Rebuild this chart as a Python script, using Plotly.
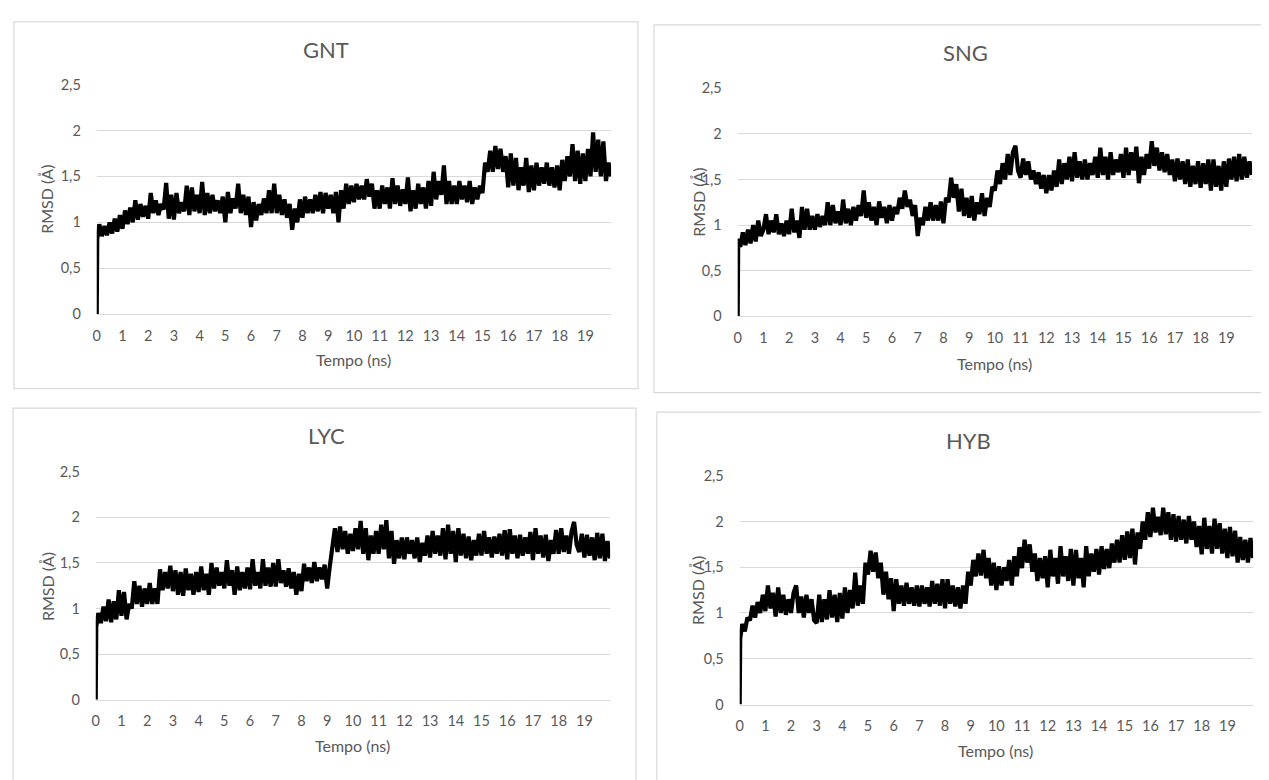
import plotly.graph_objects as go

# ---------------- data (RMSD in Å) ----------------
panel_titles = ["GNT", "SNG", "LYC", "HYB"]
x_tick_vals = list(range(0, 20))
x_tick_text = [str(v) for v in x_tick_vals]
y_tick_vals = [0, 0.5, 1, 1.5, 2, 2.5]
y_tick_text = ["0", "0,5", "1", "1,5", "2", "2,5"]
x_title = "Tempo (ns)"
y_title = "RMSD (Å)"

# samples: t = 0, 0.02, then every 0.1 ns up to 20 ns
gnt = [
    0.0, 0.82, 0.98, 0.85, 0.96, 0.86, 1.0, 0.88, 1.04, 0.9, 1.08,
    0.93, 1.13, 0.98, 1.16, 1.0, 1.24, 1.03, 1.2, 1.06, 1.18,
    1.04, 1.32, 1.1, 1.24, 1.08, 1.2, 1.14, 1.43, 1.04, 1.3,
    1.03, 1.32, 1.1, 1.22, 1.12, 1.4, 1.08, 1.38, 1.12, 1.3,
    1.1, 1.44, 1.08, 1.32, 1.1, 1.3, 1.12, 1.24, 1.1, 1.28,
    1.0, 1.33, 1.1, 1.26, 1.15, 1.42, 1.1, 1.3, 1.08, 1.28,
    0.95, 1.22, 1.02, 1.2, 1.08, 1.26, 1.1, 1.35, 1.1, 1.42,
    1.1, 1.3, 1.08, 1.25, 1.05, 1.2, 0.92, 1.15, 1.0, 1.25,
    1.05, 1.28, 1.1, 1.25, 1.1, 1.3, 1.12, 1.33, 1.1, 1.32,
    1.15, 1.3, 1.1, 1.33, 1.0, 1.35, 1.15, 1.42, 1.2, 1.4,
    1.22, 1.42, 1.25, 1.4, 1.25, 1.47, 1.28, 1.42, 1.15, 1.35,
    1.15, 1.4, 1.2, 1.38, 1.15, 1.48, 1.2, 1.4, 1.18, 1.36,
    1.2, 1.49, 1.12, 1.35, 1.15, 1.42, 1.2, 1.38, 1.15, 1.45,
    1.18, 1.55, 1.25, 1.45, 1.3, 1.62, 1.2, 1.45, 1.2, 1.4,
    1.2, 1.45, 1.25, 1.4, 1.22, 1.45, 1.2, 1.38, 1.25, 1.4,
    1.32, 1.65, 1.55, 1.78, 1.55, 1.83, 1.58, 1.8, 1.55, 1.72,
    1.38, 1.75, 1.4, 1.7, 1.35, 1.6, 1.4, 1.7, 1.33, 1.62,
    1.35, 1.65, 1.4, 1.6, 1.42, 1.65, 1.4, 1.6, 1.38, 1.62,
    1.35, 1.68, 1.45, 1.72, 1.5, 1.85, 1.45, 1.78, 1.42, 1.75,
    1.45, 1.8, 1.5, 1.98, 1.55, 1.9, 1.5, 1.88, 1.45, 1.65,
    1.5,
]

sng = [
    0.0, 0.85, 0.76, 0.92, 0.78, 0.95, 0.8, 1.0, 0.82, 1.05, 0.88,
    0.95, 1.12, 0.9, 1.05, 0.92, 1.12, 0.9, 1.02, 0.88, 1.05,
    0.9, 1.18, 0.92, 1.05, 0.86, 1.2, 0.95, 1.18, 0.95, 1.1,
    0.95, 1.12, 0.98, 1.1, 1.0, 1.25, 1.0, 1.22, 1.02, 1.15,
    1.0, 1.28, 1.02, 1.18, 1.0, 1.2, 1.05, 1.22, 1.1, 1.38,
    1.08, 1.25, 1.05, 1.2, 1.0, 1.26, 1.08, 1.2, 1.02, 1.22,
    1.05, 1.2, 1.12, 1.3, 1.18, 1.38, 1.2, 1.28, 1.1, 1.22,
    0.88, 1.08, 1.0, 1.2, 1.05, 1.25, 1.05, 1.22, 1.05, 1.26,
    1.02, 1.3, 1.25, 1.52, 1.3, 1.45, 1.15, 1.4, 1.1, 1.3,
    1.08, 1.32, 1.05, 1.25, 1.12, 1.35, 1.1, 1.3, 1.2, 1.42,
    1.38, 1.6, 1.45, 1.68, 1.5, 1.78, 1.55, 1.8, 1.87, 1.6,
    1.52, 1.73, 1.55, 1.7, 1.5, 1.6, 1.45, 1.58, 1.4, 1.55,
    1.35, 1.55, 1.38, 1.6, 1.42, 1.72, 1.45, 1.68, 1.5, 1.75,
    1.48, 1.8, 1.52, 1.7, 1.5, 1.72, 1.5, 1.68, 1.55, 1.75,
    1.52, 1.85, 1.55, 1.75, 1.5, 1.8, 1.55, 1.72, 1.58, 1.78,
    1.52, 1.85, 1.55, 1.8, 1.6, 1.86, 1.46, 1.75, 1.55, 1.78,
    1.62, 1.92, 1.65, 1.85, 1.6, 1.8, 1.58, 1.78, 1.55, 1.72,
    1.48, 1.73, 1.5, 1.7, 1.45, 1.72, 1.42, 1.65, 1.45, 1.7,
    1.41, 1.68, 1.45, 1.72, 1.38, 1.72, 1.42, 1.65, 1.38, 1.7,
    1.42, 1.73, 1.5, 1.75, 1.48, 1.78, 1.5, 1.75, 1.52, 1.7,
    1.55,
]

lyc = [
    0.0, 0.8, 0.95, 0.84, 1.02, 0.86, 1.1, 0.85, 1.08, 0.88, 1.2,
    0.92, 1.18, 0.88, 1.05, 1.0, 1.3, 1.05, 1.25, 1.02, 1.22,
    1.05, 1.28, 1.05, 1.22, 1.05, 1.43, 1.2, 1.4, 1.22, 1.47,
    1.19, 1.42, 1.15, 1.4, 1.14, 1.44, 1.2, 1.38, 1.15, 1.4,
    1.18, 1.46, 1.2, 1.38, 1.15, 1.5, 1.22, 1.45, 1.25, 1.4,
    1.22, 1.53, 1.25, 1.42, 1.15, 1.46, 1.2, 1.4, 1.22, 1.45,
    1.21, 1.54, 1.25, 1.4, 1.22, 1.54, 1.25, 1.45, 1.24, 1.5,
    1.24, 1.54, 1.28, 1.42, 1.24, 1.44, 1.22, 1.4, 1.15, 1.38,
    1.19, 1.49, 1.3, 1.45, 1.28, 1.51, 1.3, 1.45, 1.32, 1.48,
    1.22, 1.46, 1.65, 1.88, 1.62, 1.9, 1.65, 1.85, 1.6, 1.82,
    1.63, 1.88, 1.65, 1.96, 1.6, 1.88, 1.53, 1.8, 1.6, 1.85,
    1.6, 1.92, 1.65, 1.97, 1.55, 1.85, 1.49, 1.75, 1.55, 1.78,
    1.54, 1.78, 1.6, 1.75, 1.55, 1.78, 1.51, 1.72, 1.58, 1.8,
    1.56, 1.85, 1.6, 1.8, 1.58, 1.88, 1.54, 1.92, 1.6, 1.85,
    1.51, 1.88, 1.58, 1.82, 1.55, 1.79, 1.53, 1.75, 1.58, 1.82,
    1.58, 1.85, 1.6, 1.78, 1.56, 1.79, 1.6, 1.82, 1.58, 1.86,
    1.54, 1.87, 1.6, 1.8, 1.55, 1.81, 1.58, 1.78, 1.6, 1.84,
    1.53, 1.88, 1.6, 1.8, 1.56, 1.81, 1.52, 1.75, 1.6, 1.86,
    1.6, 1.88, 1.62, 1.8, 1.6, 1.84, 1.95, 1.7, 1.62, 1.82,
    1.56, 1.81, 1.58, 1.78, 1.53, 1.83, 1.55, 1.82, 1.52, 1.74,
    1.55,
]

hyb = [
    0.0, 0.72, 0.88, 0.8, 0.95, 0.92, 1.08, 0.95, 1.12, 1.0, 1.2,
    1.02, 1.3, 1.05, 1.22, 0.96, 1.28, 1.0, 1.2, 0.98, 1.15,
    1.0, 1.22, 1.3, 1.0, 1.18, 0.95, 1.2, 1.0, 1.15, 0.92,
    0.89, 1.2, 0.9, 1.15, 0.93, 1.25, 0.95, 1.2, 0.9, 1.22,
    0.94, 1.28, 1.0, 1.25, 1.05, 1.44, 1.08, 1.3, 1.1, 1.55,
    1.42, 1.68, 1.45, 1.66, 1.38, 1.55, 1.2, 1.45, 1.15, 1.38,
    1.02, 1.37, 1.1, 1.3, 1.08, 1.33, 1.1, 1.28, 1.08, 1.3,
    1.07, 1.3, 1.1, 1.28, 1.07, 1.35, 1.1, 1.32, 1.08, 1.37,
    1.05, 1.37, 1.1, 1.3, 1.07, 1.28, 1.05, 1.3, 1.1, 1.45,
    1.3, 1.58, 1.4, 1.65, 1.41, 1.69, 1.38, 1.6, 1.3, 1.55,
    1.25, 1.51, 1.3, 1.5, 1.35, 1.58, 1.3, 1.62, 1.4, 1.72,
    1.49, 1.8, 1.55, 1.75, 1.45, 1.65, 1.35, 1.6, 1.38, 1.62,
    1.28, 1.69, 1.4, 1.6, 1.32, 1.73, 1.4, 1.62, 1.35, 1.7,
    1.3, 1.69, 1.38, 1.6, 1.28, 1.73, 1.4, 1.65, 1.45, 1.7,
    1.42, 1.73, 1.48, 1.7, 1.49, 1.76, 1.55, 1.8, 1.55, 1.85,
    1.58, 1.89, 1.6, 1.92, 1.53, 1.88, 1.7, 2.0, 1.8, 2.1,
    1.83, 2.15, 1.88, 2.05, 1.85, 2.15, 1.86, 2.1, 1.8, 2.08,
    1.78, 2.06, 1.8, 2.02, 1.76, 2.06, 1.8, 2.0, 1.72, 1.95,
    1.64, 2.04, 1.7, 1.95, 1.65, 2.03, 1.7, 1.98, 1.65, 1.92,
    1.6, 1.94, 1.62, 1.9, 1.55, 1.83, 1.58, 1.8, 1.55, 1.82,
    1.6,
]

series = [gnt, sng, lyc, hyb]


def times_for(vals):
    return [0.0, 0.02] + [round(0.1 * k, 1) for k in range(1, len(vals) - 1)]


# ---------------- layout (page-pixel geometry) ----------------
PAGE_W, PAGE_H = 1269, 780
OFF = 8  # default body margin of the written page
W, H = PAGE_W - OFF, PAGE_H - OFF
GRID = "#d9d9d9"
TXT = "#595959"
FONT = "Lato"


def px(x):
    return (x - OFF) / W


def py(y):
    return 1 - (y - OFF) / H


# plot areas: (left, right, top(2.5), bottom(0))
plots = [
    (93, 609, 77, 312),
    (736, 1252, 81, 314),
    (92, 608, 473, 706),
    (738, 1253, 477, 711),
]
# chart borders: (x0, x1, y0, y1)
borders = [
    (10, 636, 13, 388),
    (652, 1290, 16, 392),
    (9, 634, 408, 800),
    (655, 1290, 412, 800),
]
title_pos = [(323, 41), (965, 44), (323, 436), (968, 441)]
xtitle_pos = [(351, 358), (994, 362), (350, 753), (995, 758)]
ytitle_pos = [(43, 194), (697, 197), (43, 590), (695, 594)]

fig = go.Figure()
layout = dict(
    width=W, height=H,
    margin=dict(l=0, r=0, t=0, b=0),
    paper_bgcolor="white", plot_bgcolor="white",
    showlegend=False,
    font=dict(family=FONT, color=TXT, size=14),
    separators=", ",
)
shapes = []
annotations = []

for i, vals in enumerate(series):
    n = i + 1
    xa = "x" if n == 1 else f"x{n}"
    ya = "y" if n == 1 else f"y{n}"
    fig.add_trace(go.Scatter(
        x=times_for(vals), y=vals, mode="lines",
        line=dict(color="black", width=4.2),
        xaxis=xa, yaxis=ya, hoverinfo="skip",
    ))
    l, r, t, b = plots[i]
    layout[f"xaxis{'' if n == 1 else n}"] = dict(
        domain=[px(l), px(r)], anchor=ya, range=[0, 20],
        tickmode="array", tickvals=x_tick_vals, ticktext=x_tick_text,
        showgrid=False, zeroline=False, showline=True, linecolor=GRID, linewidth=1,
        ticks="outside", ticklen=8, tickcolor="rgba(0,0,0,0)",
        tickfont=dict(family=FONT, size=14.5, color=TXT), fixedrange=True,
    )
    layout[f"yaxis{'' if n == 1 else n}"] = dict(
        domain=[py(b), py(t)], anchor=xa, range=[0, 2.5],
        tickmode="array", tickvals=y_tick_vals, ticktext=y_tick_text,
        showgrid=True, gridcolor=GRID, gridwidth=1, zeroline=False, showline=False,
        ticks="outside", ticklen=12, tickcolor="rgba(0,0,0,0)",
        tickfont=dict(family=FONT, size=14.5, color=TXT), fixedrange=True,
    )
    x0, x1, y0, y1 = borders[i]
    shapes.append(dict(type="rect", xref="paper", yref="paper",
                       x0=px(x0), x1=px(x1), y0=py(y1), y1=py(y0),
                       line=dict(color=GRID, width=1.2), fillcolor="rgba(0,0,0,0)",
                       layer="below"))
    tx, ty = title_pos[i]
    annotations.append(dict(text=panel_titles[i], x=px(tx), y=py(ty), xref="paper", yref="paper",
                            showarrow=False, xanchor="center", yanchor="middle",
                            font=dict(family=FONT, size=22, color=TXT)))
    ax_, ay_ = xtitle_pos[i]
    annotations.append(dict(text=x_title, x=px(ax_), y=py(ay_), xref="paper", yref="paper",
                            showarrow=False, xanchor="center", yanchor="middle",
                            font=dict(family=FONT, size=16, color=TXT)))
    bx, by = ytitle_pos[i]
    annotations.append(dict(text=y_title, x=px(bx), y=py(by), xref="paper", yref="paper",
                            showarrow=False, xanchor="center", yanchor="middle", textangle=-90,
                            font=dict(family=FONT, size=16, color=TXT)))

layout["shapes"] = shapes
layout["annotations"] = annotations
fig.update_layout(**layout)
fig.write_html("out.html")
